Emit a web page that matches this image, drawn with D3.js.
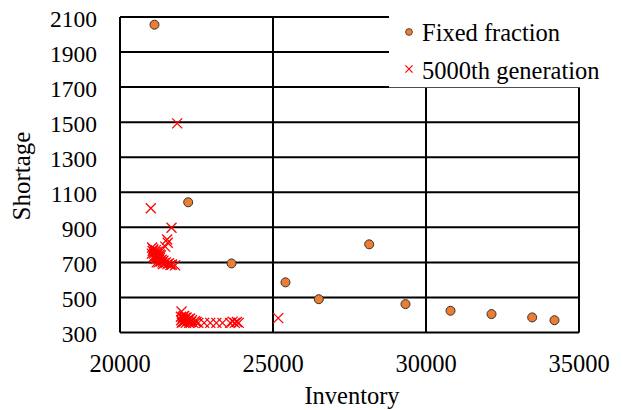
<!DOCTYPE html>
<html>
<head>
<meta charset="utf-8">
<script src="https://cdn.jsdelivr.net/npm/d3@7"></script>
<style>
  html, body { margin: 0; padding: 0; background: #fff; }
  svg { display: block; }
  text { font-family: "Liberation Serif", "Times New Roman", serif; fill: #000; }
</style>
</head>
<body>
<svg id="chart" width="622" height="410"></svg>
<script>
// Fixed-fraction policy results: inventory vs shortage
const fixedInventory = [21127, 22229, 23644, 25408, 26497, 28144, 29330, 30801, 32141, 33470, 34199];
const fixedShortage  = [2056, 1043, 694, 586, 490, 803, 462, 424, 405, 386, 370];

// 5000th generation population
const genInventory = [
  21869, 21007, 21683, 21540, 21480, 21560,
  21050, 21070, 21090, 21110, 21130, 21150, 21170, 21190, 21210, 21230,
  21250, 21280, 21300, 21330, 21360, 21390, 21420, 21450, 21500, 21550,
  21600, 21650, 21700, 21800, 21120, 21200, 21260, 21340,
  21150, 21250, 21100, 21200, 21300, 21400, 21040, 21180,
  22010, 21990, 22000, 22020, 22050, 22080, 22100, 22120, 22150, 22180,
  22200, 22230, 22260, 22290, 22320, 22350, 22400, 22450, 22500, 22560,
  22040, 22140, 22240, 22060,
  22750, 22950, 23150, 23350, 23600, 23680, 23750, 23820, 23880, 25170
];
const genShortage = [
  1493, 1009, 898, 831, 790, 812,
  785, 765, 775, 750, 760, 740, 770, 735, 745, 725,
  735, 715, 725, 705, 715, 700, 710, 695, 700, 690,
  695, 685, 688, 683, 730, 760, 700, 740,
  720, 760, 730, 700, 745, 690, 750, 720,
  420, 390, 370, 355, 380, 360, 395, 370, 355, 385,
  365, 375, 355, 380, 360, 370, 355, 365, 360, 355,
  360, 385, 370, 390,
  355, 355, 355, 355, 355, 362, 355, 360, 355, 382
];

const xTicks = [20000, 25000, 30000, 35000];
const yTicks = [300, 500, 700, 900, 1100, 1300, 1500, 1700, 1900, 2100];
const legendLabels = ["Fixed fraction", "5000th generation"];

const svg = d3.select("#chart");
const plotLeft = 120, plotRight = 579, plotTop = 17, plotBottom = 332.5;

const x = d3.scaleLinear().domain([20000, 35000]).range([plotLeft, plotRight]);
const y = d3.scaleLinear().domain([300, 2100]).range([plotBottom, plotTop]);

// grid
const grid = svg.append("g");
grid.selectAll("line.h").data(yTicks).join("line")
  .attr("x1", plotLeft).attr("x2", plotRight)
  .attr("y1", d => y(d)).attr("y2", d => y(d))
  .attr("stroke", "#000").attr("stroke-width", 2);
grid.selectAll("line.v").data(xTicks).join("line")
  .attr("y1", plotTop).attr("y2", plotBottom)
  .attr("x1", d => x(d)).attr("x2", d => x(d))
  .attr("stroke", "#000").attr("stroke-width", 2);

// tick labels
svg.append("g").selectAll("text").data(yTicks).join("text")
  .attr("x", 97).attr("y", d => y(d)).attr("dy", "0.42em")
  .attr("text-anchor", "end").attr("font-size", 23.5)
  .text(d => d);
svg.append("g").selectAll("text").data(xTicks).join("text")
  .attr("x", d => x(d)).attr("y", 372)
  .attr("text-anchor", "middle").attr("font-size", 24.5)
  .text(d => d);

// axis titles
svg.append("text").attr("x", 352).attr("y", 404)
  .attr("text-anchor", "middle").attr("font-size", 24.5).text("Inventory");
svg.append("text").attr("transform", "translate(30,176) rotate(-90)")
  .attr("text-anchor", "middle").attr("font-size", 25).text("Shortage");

// crosses
const cross = (cx, cy, r) => `M${cx - r},${cy - r}L${cx + r},${cy + r}M${cx - r},${cy + r}L${cx + r},${cy - r}`;
svg.append("g").selectAll("path").data(genInventory.map((v, i) => [v, genShortage[i]])).join("path")
  .attr("d", d => cross(x(d[0]), y(d[1]), 5))
  .attr("stroke", "#ff0000").attr("stroke-width", 1.3).attr("fill", "none");

// circles
svg.append("g").selectAll("circle").data(fixedInventory.map((v, i) => [v, fixedShortage[i]])).join("circle")
  .attr("cx", d => x(d[0])).attr("cy", d => y(d[1])).attr("r", 4.5)
  .attr("fill", "#ed7d31").attr("stroke", "#333").attr("stroke-width", 1);

// legend
const lg = svg.append("g");
lg.append("rect").attr("x", 389).attr("y", 16).attr("width", 230).attr("height", 71.3).attr("fill", "#fff");
lg.append("circle").attr("cx", 409).attr("cy", 32).attr("r", 3.4)
  .attr("fill", "#ed7d31").attr("stroke", "#333").attr("stroke-width", 0.8);
lg.append("path").attr("d", cross(409, 69, 3.6)).attr("stroke", "#ff0000").attr("stroke-width", 1.2);
lg.selectAll("text").data(legendLabels).join("text")
  .attr("x", 422).attr("y", (d, i) => 41 + i * 37.5)
  .attr("font-size", 24.5).text(d => d);
</script>
</body>
</html>
